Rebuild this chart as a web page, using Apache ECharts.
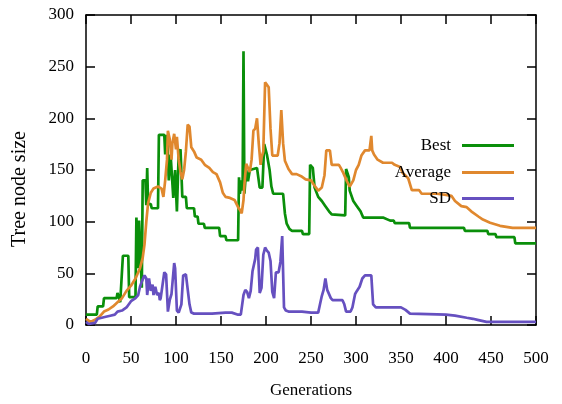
<!DOCTYPE html>
<html>
<head>
<meta charset="utf-8">
<script src="https://cdn.jsdelivr.net/npm/echarts@6/dist/echarts.min.js"></script>
<style>
html,body{margin:0;padding:0;background:#fff;}
#chart{width:562px;height:404px;}
</style>
</head>
<body>
<div id="chart"></div>
<script>
// ---- Data ----
const seriesNames = ['Best', 'Average', 'SD'];
const xTicks = [0, 50, 100, 150, 200, 250, 300, 350, 400, 450, 500];
const yTicks = [0, 50, 100, 150, 200, 250, 300];

const bestGen = [0,12,13,19,20,34,35,37,38,40,41,47,48,55,56,57,58,59,61,62,63,66,67,68,69,72,73,80,81,87,88,90,92,94,97,99,101,103,105,107,111,112,120,121,124,125,131,132,148,149,155,156,169,170,171,173,174,175,176,178,180,182,190,193,196,198,201,204,206,208,219,221,223,226,229,240,241,248,249,252,254,258,262,266,270,273,275,288,289,292,293,297,301,305,308,330,338,342,343,359,360,420,421,446,447,455,456,476,477,500];
const bestVal = [10,10,18,18,26,26,31,31,22,22,67,67,27,27,104,104,55,101,101,36,140,140,116,152,117,117,113,113,184,184,165,184,140,165,123,150,110,166,170,124,124,113,113,105,105,98,98,94,94,86,86,82,82,143,127,140,130,265,127,150,139,150,152,133,133,175,165,150,134,127,127,108,98,93,91,91,88,88,155,152,133,124,120,115,110,107,106,106,151,143,130,120,115,110,104,104,101,101,98.6,98.6,94,94,91,91,88,88,85,85,79,79];

const avgGen = [0,5,10,15,20,25,30,35,40,45,50,55,60,63,65,67,69,72,75,80,84,86,88,90,91,93,95,96,98,100,101,103,105,107,109,111,113,115,117,120,123,128,132,137,141,145,149,152,155,160,165,169,172,173,175,176,178,180,182,184,186,188,190,192,194,195,197,199,201,203,205,207,213,215,217,219,221,225,229,234,239,244,250,253,258,262,265,267,271,273,281,283,286,290,293,297,300,303,306,310,315,317,318,320,324,330,340,343,349,352,358,362,370,373,390,400,406,410,417,423,428,436,441,449,460,467,474,500];
const avgVal = [6,3,5,8,13,15,18,22,26,33,38,45,55,65,78,100,118,128,132,134,132,124,140,160,188,180,160,176,185,170,182,160,148,141,150,168,194,192,172,168,162,160,155,152,148,146,138,128,124,123,121,114,110,108,121,136,156,152,148,160,188,190,200,175,155,162,168,235,234,230,190,164,164,176,208,176,159,151,146,146,144,141,140,136,130,133,145,169,169,155,155,152,147,139,134,140,150,155,164,169,169,183,169,165,160,157,157,155,153,147,142,130.6,130.6,127,127,126,125,120,115,114,110,105,102,99,96,95,94,94];

const sdGen = [0,3,10,13,22,27,32,35,40,45,50,55,58,60,62,65,67,68,70,72,74,75,77,79,81,82,83,87,89,91,93,95,98,99,101,103,106,108,111,113,115,117,120,140,155,162,169,172,175,177,179,181,183,185,188,189,191,193,195,197,199,201,203,205,207,209,211,214,216,218,219,220,222,225,240,250,258,260,262,264,266,268,270,272,274,285,287,289,294,296,299,301,304,307,310,317,319,322,350,355,360,380,400,410,423,430,435,445,500];
const sdVal = [3,1,2,6,8,9,10,13,14,17,23,26,29,37,42,48,45,29,45,33,39,29,37,29,31,24,26,51,49,13,24,30,60,55,14,12,20,48,49,48,20,12,11,11,12,12,10,10,29,34,32,26,33,52,64,73,75,31,36,68,75,72,70,62,32,26,51,51,61,86,86,17,14,13,13,12,12,20,28,34,45,34,33,26,24,24,20,13,13,17,30,33,37,45,48,48,20,17,17,14.6,11,10.5,10,9,7,6,5,3,3];

const colors = ['#0a8f0a', '#e0882e', '#6650c0'];

function pairs(xs, ys) { return xs.map((x, i) => [x, ys[i]]); }

const font = 'Liberation Serif, Times New Roman, serif';
const chart = echarts.init(document.getElementById('chart'), null, {renderer: 'canvas'});

function mkLine() { return {show: true, onZero: false, lineStyle: {color: '#000', width: 1.5}}; }
function mkTick() { return {show: true, inside: true, length: 9, lineStyle: {color: '#000', width: 1.5}}; }

function legendFor(i, top) {
  return {
    data: [seriesNames[i]],
    right: 48, top: top, padding: 0,
    align: 'right', orient: 'vertical',
    icon: 'rect', itemWidth: 52, itemHeight: 3,
    textStyle: {fontFamily: font, fontSize: 17, color: '#000', padding: [0, 6, 0, 0]},
    selectedMode: false
  };
}

chart.setOption({
  animation: false,
  backgroundColor: '#fff',
  color: colors,
  grid: {left: 86, right: 26, top: 15, bottom: 73, containLabel: false},
  legend: [legendFor(0, 137), legendFor(1, 164), legendFor(2, 190)],
  xAxis: [
    {type: 'value', min: xTicks[0], max: xTicks[xTicks.length - 1], interval: 50, position: 'bottom',
     axisLine: mkLine(), axisTick: mkTick(), splitLine: {show: false},
     axisLabel: {margin: 25, fontFamily: font, fontSize: 17, color: '#000'},
     name: 'Generations', nameLocation: 'middle', nameGap: 57,
     nameTextStyle: {fontFamily: font, fontSize: 17, color: '#000'}},
    {type: 'value', min: xTicks[0], max: xTicks[xTicks.length - 1], interval: 50, position: 'top',
     axisLine: mkLine(), axisTick: mkTick(), splitLine: {show: false}, axisLabel: {show: false}}
  ],
  yAxis: [
    {type: 'value', min: yTicks[0], max: yTicks[yTicks.length - 1], interval: 50, position: 'left',
     axisLine: mkLine(), axisTick: mkTick(), splitLine: {show: false},
     axisLabel: {margin: 12, fontFamily: font, fontSize: 17, color: '#000'}},
    {type: 'value', min: yTicks[0], max: yTicks[yTicks.length - 1], interval: 50, position: 'right',
     axisLine: mkLine(), axisTick: mkTick(), splitLine: {show: false}, axisLabel: {show: false}}
  ],
  graphic: [{
    type: 'text', x: 20, y: 189, rotation: Math.PI / 2,
    style: {text: 'Tree node size', font: '20px ' + font, fill: '#000', align: 'center', verticalAlign: 'middle'}
  }],
  series: [
    {name: seriesNames[0], type: 'line', data: pairs(bestGen, bestVal), showSymbol: false, symbol: 'none',
     lineStyle: {width: 2.7, color: colors[0]}, itemStyle: {color: colors[0]}},
    {name: seriesNames[1], type: 'line', data: pairs(avgGen, avgVal), showSymbol: false, symbol: 'none',
     lineStyle: {width: 2.7, color: colors[1]}, itemStyle: {color: colors[1]}},
    {name: seriesNames[2], type: 'line', data: pairs(sdGen, sdVal), showSymbol: false, symbol: 'none',
     lineStyle: {width: 2.7, color: colors[2]}, itemStyle: {color: colors[2]}}
  ]
});
</script>
</body>
</html>
